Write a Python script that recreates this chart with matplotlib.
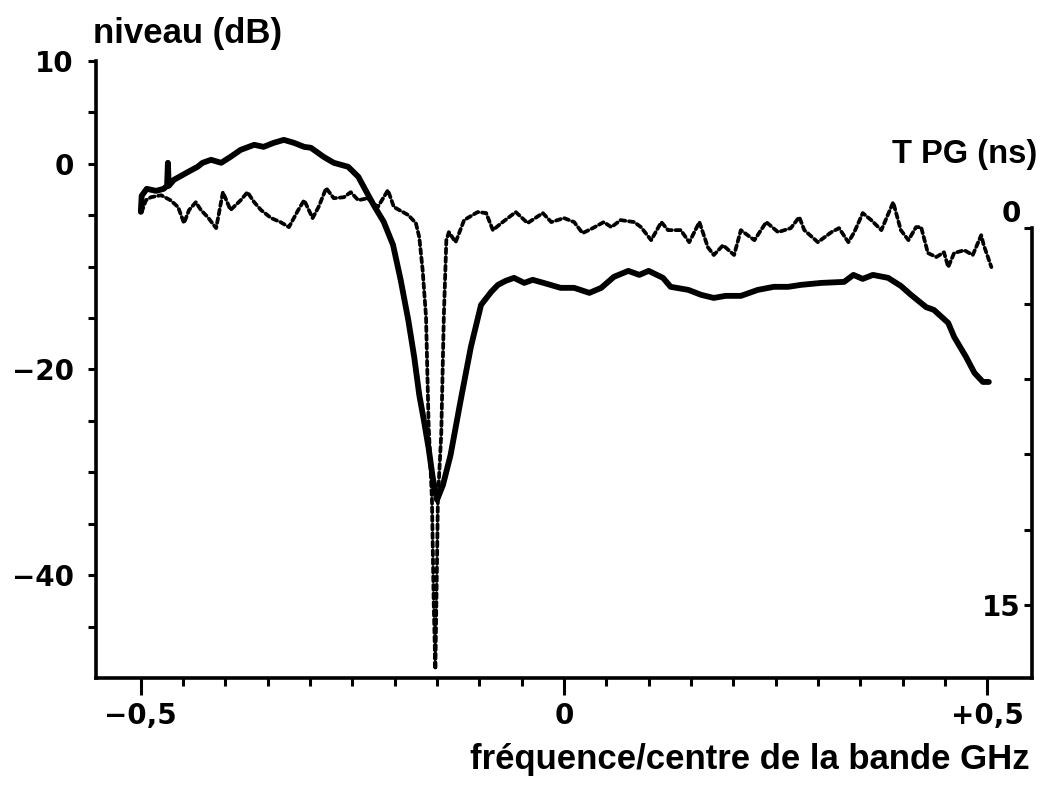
import matplotlib
matplotlib.use("Agg")
import matplotlib.pyplot as plt
from matplotlib.ticker import FixedLocator

plt.rcParams['font.family'] = ['Liberation Sans', 'DejaVu Sans']
plt.rcParams['font.weight'] = 'bold'

# niveau (dB) - courbe continue
freq_level = [-0.500, -0.499, -0.493, -0.482, -0.473, -0.469, -0.468, -0.467, -0.461,
              -0.444, -0.433, -0.427, -0.417, -0.405, -0.394, -0.382, -0.366, -0.355,
              -0.343, -0.331, -0.319, -0.307, -0.299, -0.284, -0.272, -0.255, -0.243,
              -0.236, -0.225, -0.213, -0.202, -0.193, -0.184, -0.177, -0.171, -0.165,
              -0.160, -0.155, -0.150, -0.143, -0.134, -0.122, -0.110, -0.098, -0.086,
              -0.078, -0.069, -0.059, -0.047, -0.037, -0.024, -0.004, 0.012, 0.030,
              0.044, 0.059, 0.076, 0.089, 0.100, 0.117, 0.126, 0.147, 0.162, 0.177,
              0.191, 0.209, 0.229, 0.248, 0.265, 0.280, 0.304, 0.331, 0.342, 0.353,
              0.365, 0.383, 0.398, 0.410, 0.428, 0.437, 0.454, 0.461, 0.475, 0.485,
              0.495, 0.502]
level_db = [-4.67, -3.11, -2.43, -2.63, -2.43, -2.14, 0.10, -2.14, -1.56,
            -0.78, -0.29, 0.10, 0.39, 0.10, 0.68, 1.36, 1.85, 1.65,
            2.04, 2.33, 2.04, 1.65, 1.56, 0.68, 0.10, -0.29, -1.26,
            -2.33, -3.99, -5.64, -7.88, -11.28, -15.18, -18.77, -22.47, -25.19,
            -27.63, -30.54, -32.68, -31.23, -28.31, -22.96, -17.80, -13.72, -12.45,
            -11.77, -11.38, -11.09, -11.58, -11.28, -11.58, -12.06, -12.06, -12.55,
            -12.06, -10.99, -10.41, -10.80, -10.41, -11.09, -11.96, -12.26, -12.74, -13.04,
            -12.84, -12.84, -12.26, -11.96, -11.96, -11.77, -11.58, -11.48, -10.80, -11.19,
            -10.80, -11.09, -11.87, -12.74, -13.94, -14.20, -15.47, -16.83, -18.77, -20.33,
            -21.21, -21.21]

# TPG (ns) - courbe pointillee
freq_tpg = [-0.499, -0.494, -0.488, -0.476, -0.465, -0.456, -0.449, -0.443, -0.435,
            -0.429, -0.421, -0.411, -0.403, -0.394, -0.382, -0.374, -0.366, -0.358,
            -0.346, -0.335, -0.325, -0.314, -0.307, -0.297, -0.290, -0.281, -0.272,
            -0.260, -0.252, -0.243, -0.232, -0.220, -0.208, -0.201, -0.184, -0.175,
            -0.171, -0.167, -0.163, -0.160, -0.156, -0.154, -0.152, -0.150, -0.149,
            -0.145, -0.142, -0.139, -0.136, -0.128, -0.118, -0.102, -0.092, -0.084,
            -0.074, -0.057, -0.043, -0.025, -0.015, 0.000, 0.012, 0.022, 0.034,
            0.047, 0.056, 0.067, 0.083, 0.091, 0.103, 0.115, 0.123, 0.138,
            0.148, 0.160, 0.170, 0.177, 0.188, 0.201, 0.209, 0.225, 0.239,
            0.253, 0.268, 0.278, 0.284, 0.300, 0.316, 0.325, 0.336, 0.343,
            0.353, 0.363, 0.375, 0.389, 0.398, 0.407, 0.416, 0.422, 0.430,
            0.440, 0.449, 0.454, 0.461, 0.473, 0.483, 0.493, 0.496, 0.505]
tpg_ns = [-0.64, -1.11, -1.23, -1.31, -1.11, -0.84, -0.20, -0.72, -1.03,
          -0.72, -0.44, 0.00, -1.43, -0.72, -1.11, -1.43, -1.03, -0.72,
          -0.40, -0.24, -0.04, -0.72, -1.11, -0.40, -0.84, -1.59, -1.19,
          -1.23, -1.43, -1.11, -1.19, -0.84, -1.51, -0.84, -0.52, -0.20,
          0.36, 1.67, 3.54, 7.76, 10.82, 14.80, 17.55, 13.21, 10.82,
          8.16, 3.54, 0.48, 0.16, 0.56, -0.32, -0.64, -0.60, 0.08,
          -0.20, -0.64, -0.20, -0.60, -0.24, -0.40, -0.24, 0.20, 0.00,
          -0.24, -0.04, -0.32, -0.24, -0.04, 0.48, -0.24, 0.08, 0.08,
          0.56, -0.24, 0.76, 1.07, 0.68, 1.07, 0.08, 0.48, -0.24,
          0.16, 0.00, -0.44, 0.08, 0.56, 0.16, 0.00, 0.56, 0.16,
          -0.60, -0.32, 0.08, -1.03, 0.08, 0.48, -0.04, -0.04, 0.99,
          1.15, 0.96, 1.55, 0.99, 0.88, 1.07, 0.28, 0.68, 1.55]

db_ticks = [10, 0, -20, -40]
db_labels = ['10', '0', '\u221220', '\u221240']
db_minor = [5, -5, -10, -15, -25, -30, -35, -45]
freq_ticks = [-0.5, 0, 0.5]
freq_labels = ['\u22120,5', '0', '+0,5']
freq_minor = [-0.45, -0.4, -0.35, -0.3, -0.25, -0.2, -0.15, -0.1, -0.05,
              0.05, 0.1, 0.15, 0.2, 0.25, 0.3, 0.35, 0.4, 0.45]
tpg_ticks = [0, 15]
tpg_minor = [3, 6, 9, 12]

tick_font = {'family': 'DejaVu Sans', 'weight': 'bold', 'size': 20}

fig = plt.figure(figsize=(10.42, 7.86), dpi=100)
ax = fig.add_axes([0.0921, 0.1374, 0.8983, 0.7850])

ax.plot(freq_level, level_db, color='black', lw=4.2,
        solid_capstyle='round', solid_joinstyle='round')
ax.set_xlim(-0.553, 0.553)
ax.set_ylim(-50, 10)

for s in ['top', 'right']:
    ax.spines[s].set_visible(False)
for s in ['left', 'bottom']:
    ax.spines[s].set_linewidth(2.6)

ax.set_yticks(db_ticks, db_labels, fontdict=tick_font)
ax.yaxis.set_minor_locator(FixedLocator(db_minor))
ax.set_xticks(freq_ticks, freq_labels, fontdict=tick_font)
ax.xaxis.set_minor_locator(FixedLocator(freq_minor))
ax.tick_params(which='both', direction='out', width=2.2)
ax.tick_params(axis='y', which='both', length=6, pad=10)
ax.tick_params(axis='x', which='major', length=12, pad=5)
ax.tick_params(axis='x', which='minor', length=6)

ax2 = ax.twinx()
ax2.plot(freq_tpg, tpg_ns, color='black', lw=2.7, ls=(0, (1.3, 1.0)),
         dash_capstyle='round')
ax2.set_ylim(17.9, -6.65)
for s in ['top', 'left', 'bottom']:
    ax2.spines[s].set_visible(False)
ax2.spines['right'].set_linewidth(2.6)
ax2.spines['right'].set_bounds(0, 17.9)
ax2.set_yticks(tpg_ticks, ['0', '15'], fontdict=tick_font)
ax2.yaxis.set_minor_locator(FixedLocator(tpg_minor))
ax2.tick_params(axis='y', which='both', direction='in', length=6, width=2.2,
                pad=-8)
for lab in ax2.get_yticklabels():
    lab.set_horizontalalignment('right')
ax2.get_yticklabels()[0].set_verticalalignment('bottom')

fig.text(93 / 1042, 1 - 33 / 786, 'niveau (dB)', ha='left', va='center', fontsize=25)
fig.text(1037 / 1042, 1 - 155 / 786, 'T PG (ns)', ha='right', va='center', fontsize=23.5)
fig.text(1030 / 1042, 1 - 760 / 786, 'fréquence/centre de la bande GHz',
         ha='right', va='center', fontsize=25)

fig.savefig('out.png', dpi=100)
